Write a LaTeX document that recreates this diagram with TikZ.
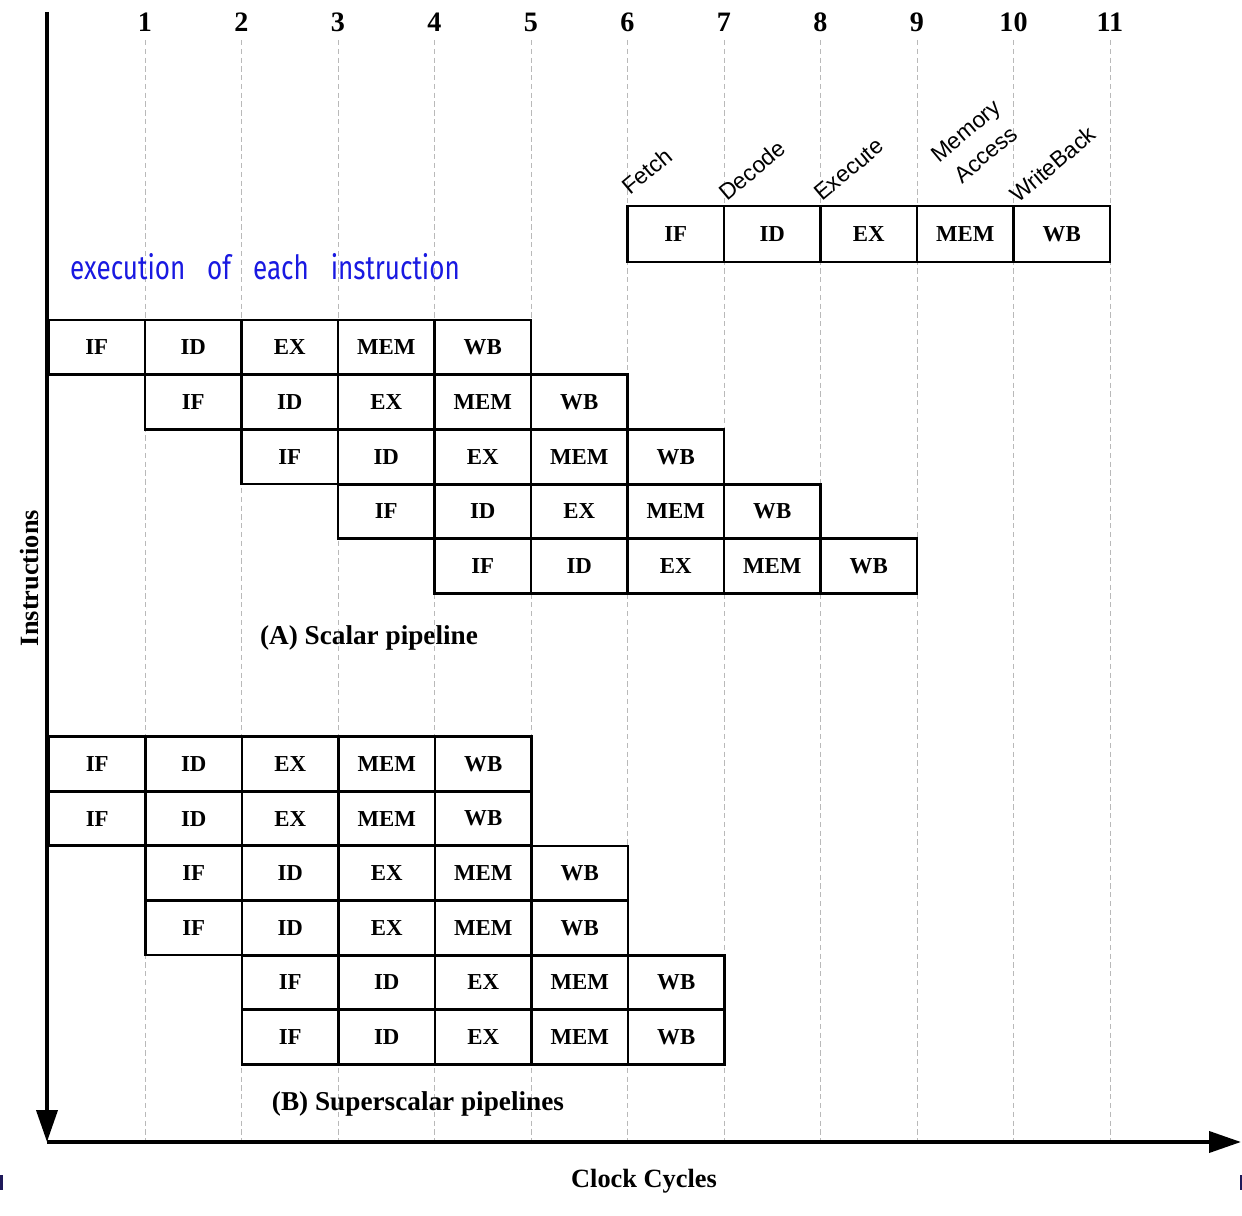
\documentclass[tikz,border=0pt]{standalone}
\usepackage{fontspec}
\setmainfont{Liberation Serif}
\newfontfamily\stagefont{Liberation Sans}
\newfontfamily\notefont[FakeStretch=0.78]{Fira Sans}
\usetikzlibrary{arrows.meta}
\definecolor{inkblue}{RGB}{25,25,225}
\definecolor{edgenavy}{RGB}{30,25,90}
\tikzset{
  cell/.style={draw, line width=1.6pt, minimum width=1.93cm, minimum height=1.09cm, inner sep=0pt, font=\fontsize{13}{13}\selectfont\bfseries},
  cycleline/.style={gray!55, line width=0.4pt, dash pattern=on 3pt off 2pt},
  axis/.style={line width=2.2pt, -{Triangle[length=0.64cm,width=0.42cm]}},
  stage/.style={rotate=40, anchor=south west, inner sep=1pt, font=\stagefont\fontsize{13}{15.5}\selectfont},
  caption/.style={font=\fontsize{15.5}{16}\selectfont\bfseries},
}
\begin{document}
\begin{tikzpicture}[x=0.02cm,y=-0.02cm]
\useasboundingbox (0,0) rectangle (1242,1216);
% clock cycle grid
\foreach \c in {1,...,11} {
  \draw[cycleline] ({48.5+96.5*\c},40) -- ({48.5+96.5*\c},1140);
  \node[font=\fontsize{16}{16}\selectfont\bfseries] (n\c) at ({48.5+96.5*\c},22) {\c};
}
% stages of one instruction
\foreach \st [count=\j from 0] in {IF,ID,EX,MEM,WB}
  \node[cell, minimum height=1.12cm] (r\j) at ({48.5+96.5*(6.5+\j)},234) {\st};
\node[stage] (fetch) at (630,199) {Fetch};
\node[stage] (decode) at (727,205) {Decode};
\node[stage] (execute) at (822,205) {Execute};
\node[stage, align=center] (memacc) at (959,190) {Memory\\[2pt]Access};
\node[stage] (writeback) at (1018,207) {WriteBack};
\node[text=inkblue, anchor=west, font=\notefont\fontsize{19}{19}\selectfont] (note) at (64,267) {execution\hspace{0.45em} of\hspace{0.45em} each\hspace{0.45em} instruction};
% (A) scalar
\foreach \i in {0,...,4} {
  \foreach \st [count=\j from 0] in {IF,ID,EX,MEM,WB}
    \node[cell] (a\i\j) at ({48.5+96.5*(\i+\j+0.5)},{347.3+54.7*\i}) {\st};
}
\node[caption] (capa) at (369,638) {(A) Scalar pipeline};
% (B) superscalar
\foreach \k [evaluate=\k as \off using {int(\k/2)}] in {0,...,5} {
  \foreach \st [count=\j from 0] in {IF,ID,EX,MEM,WB}
    \node[cell] (b\k\j) at ({49+96.5*(\off+\j+0.5)},{764+54.6*\k}) {\st};
}
\node[caption] (capb) at (418,1104) {(B) Superscalar pipelines};
% axes
\coordinate (top) at (47,12);
\coordinate (orig) at (47,1142);
\coordinate (xend) at (1241,1142);
\draw[axis] (top) -- (orig);
\draw[axis] (orig) -- (xend);
\node[caption, rotate=90, font=\fontsize{15}{15}\selectfont\bfseries] (ylab) at (30,578) {Instructions};
\node[caption, font=\fontsize{15}{15}\selectfont\bfseries] (xlab) at (644,1181) {Clock Cycles};
% edge marks
\fill[edgenavy] (0,1175) rectangle (3,1190);
\fill[edgenavy] (1240,1175) rectangle (1242,1190);
\end{tikzpicture}
\end{document}
